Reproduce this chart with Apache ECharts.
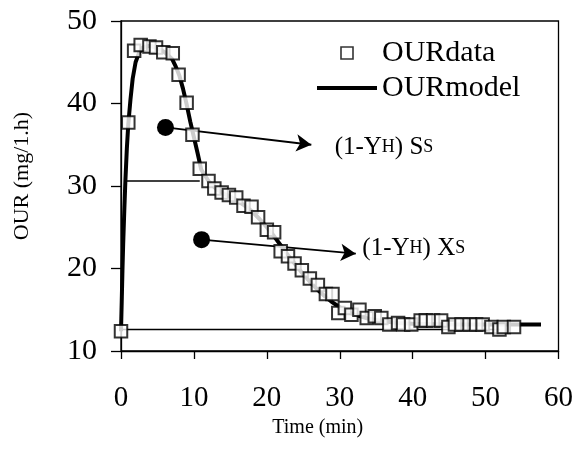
<!DOCTYPE html>
<html>
<head>
<meta charset="utf-8">
<script src="https://cdn.jsdelivr.net/npm/echarts@6/dist/echarts.min.js"></script>
<style>
  html, body { margin: 0; padding: 0; background: #fff; }
  #chart { width: 576px; height: 457px; }
</style>
</head>
<body>
<div id="chart"></div>
<script>
// measured OUR data (time in min, OUR in mg/l.h)
const timeData = [0, 1.0, 1.8, 2.7, 3.9, 4.8, 5.8, 7.1, 7.9, 9.0, 9.8, 10.8, 12.0, 12.8, 13.8, 14.8,
  15.8, 16.8, 17.9, 18.8, 20.0, 21.0, 21.9, 22.9, 23.8, 24.8, 25.9, 27.0, 28.1, 29.0, 29.8, 30.7,
  31.6, 32.7, 33.7, 34.8, 35.7, 36.8, 38.0, 38.7, 39.8, 41.1, 41.8, 42.8, 43.9, 44.9, 45.8, 46.7,
  47.8, 48.7, 49.6, 50.8, 51.9, 52.5, 53.9];
const ourData = [12.4, 37.7, 46.4, 47.1, 46.9, 46.8, 46.2, 46.1, 43.5, 40.1, 36.2, 32.1, 30.6, 29.7, 29.2, 28.9,
  28.6, 27.6, 27.5, 26.2, 24.7, 24.4, 22.1, 21.5, 20.6, 19.8, 18.8, 18.0, 16.9, 16.9, 14.6, 15.2,
  14.4, 15.0, 14.0, 14.2, 14.0, 13.2, 13.4, 13.2, 13.2, 13.7, 13.7, 13.7, 13.7, 12.9, 13.2, 13.2,
  13.2, 13.2, 13.2, 12.9, 12.6, 12.9, 12.9];

// model curve
const modelTime = [0, 0.1, 0.2, 0.3, 0.45, 0.6, 0.8, 1.0, 1.3, 1.6, 2.0, 2.5, 3.0, 4.0, 5.0, 6.0, 7.0, 7.5,
  8.0, 8.5, 9.0, 9.5, 10.0, 10.5, 11.0, 12, 13, 14, 15, 16, 17, 18, 19, 20, 21, 22, 23, 24, 25, 26,
  27, 28, 29, 30, 31, 32, 34, 36, 38, 40, 45, 50, 57.6];
const modelOur = [12.4, 16.0, 19.8, 23.0, 27.0, 30.6, 34.5, 37.5, 40.5, 43.0, 45.0, 46.2, 46.8, 47.0, 46.7, 46.2, 45.4, 44.5,
  43.4, 41.8, 39.9, 37.8, 35.9, 34.0, 32.0, 30.6, 29.7, 29.1, 28.7, 28.2, 27.6, 26.9, 26.0, 25.0, 23.9, 22.7, 21.5, 20.4, 19.3, 18.3,
  17.4, 16.6, 15.9, 15.3, 14.8, 14.4, 13.9, 13.6, 13.4, 13.3, 13.2, 13.2, 13.2];

// reference levels (start, end)
const ssLine = [[0.6, 30.6], [10.8, 30.6]];
const baseLine = [[0, 12.6], [52, 12.6]];

// annotation dots, arrow ends and labels
const dotPoints = [[6.1, 37.1], [11.05, 23.5]];
const arrowEnds = [[26.1, 35.0], [32.2, 21.8]];
const labelPoints = [[29.3, 34.7], [33.1, 22.4]];
const labelTexts = ['{a|(1-Y}{b|H}{a|) S}{b|S}', '{a|(1-Y}{b|H}{a|) X}{b|S}'];

const serif = '"Liberation Serif", "DejaVu Serif", serif';

const chart = echarts.init(document.getElementById('chart'));

const option = {
  animation: false,
  backgroundColor: '#fff',
  grid: {
    left: 121, top: 21, right: 17, bottom: 106,
    show: true, borderColor: '#000', borderWidth: 1.3
  },
  legend: {
    orient: 'vertical',
    left: 312, top: 33,
    itemWidth: 60, itemHeight: 12, itemGap: 5,
    symbolKeepAspect: true,
    textStyle: { fontFamily: serif, fontSize: 30, color: '#000' },
    data: [
      {
        name: 'OURdata',
        icon: 'path://M0,0H10V10H0Z',
        itemStyle: { color: '#fff', borderColor: '#000', borderWidth: 1.6 }
      },
      {
        name: 'OURmodel',
        icon: 'path://M0,0H60V4H0Z',
        itemStyle: { color: '#000', borderWidth: 0 }
      }
    ]
  },
  xAxis: {
    type: 'value', min: 0, max: 60, interval: 10,
    name: 'Time (min)', nameLocation: 'middle', nameGap: 58,
    nameTextStyle: { fontFamily: serif, fontSize: 20, color: '#000', padding: [0, 44, 0, 0] },
    axisLine: { lineStyle: { color: '#000', width: 1.3 } },
    axisTick: { inside: false, length: 8, lineStyle: { color: '#000', width: 1.3 } },
    axisLabel: { fontFamily: serif, fontSize: 29, color: '#000', margin: 33 },
    splitLine: { show: false }
  },
  yAxis: {
    type: 'value', min: 10, max: 50, interval: 10,
    name: 'OUR (mg/1.h)', nameLocation: 'middle', nameGap: 88,
    nameTextStyle: { fontFamily: serif, fontSize: 22, color: '#000', padding: [0, 0, 0, 20] },
    axisLine: { lineStyle: { color: '#000', width: 1.3 } },
    axisTick: { inside: false, length: 10, lineStyle: { color: '#000', width: 1.3 } },
    axisLabel: { fontFamily: serif, fontSize: 30, color: '#000', margin: 24 },
    splitLine: { show: false }
  },
  series: [
    {
      name: 'OURdata',
      type: 'scatter',
      z: 5,
      symbol: 'rect',
      symbolSize: 12.5,
      itemStyle: { color: '#fff', borderColor: '#000', borderWidth: 2 },
      data: timeData.map((t, i) => [t, ourData[i]])
    },
    {
      name: 'OURmodel',
      type: 'line',
      z: 3,
      showSymbol: false,
      symbol: 'none',
      lineStyle: { color: '#000', width: 4 },
      itemStyle: { color: '#000' },
      data: modelTime.map((t, i) => [t, modelOur[i]])
    },
    {
      name: 'ss',
      type: 'line',
      z: 2,
      symbol: 'none',
      lineStyle: { color: '#000', width: 1.5 },
      data: ssLine
    },
    {
      name: 'base',
      type: 'line',
      z: 2,
      symbol: 'none',
      lineStyle: { color: '#000', width: 1.5 },
      data: baseLine
    },
    {
      name: 'notes',
      type: 'scatter',
      z: 4,
      data: [],
      markPoint: {
        symbol: 'circle',
        symbolSize: 17,
        itemStyle: { color: '#000' },
        label: { show: false },
        data: dotPoints.map(p => ({ coord: p }))
      },
      markLine: {
        silent: true,
        symbol: ['none', 'arrow'],
        symbolSize: [13, 15],
        lineStyle: { color: '#000', width: 1.8, type: 'solid' },
        label: { show: false },
        data: dotPoints.map((p, i) => [{ coord: p }, { coord: arrowEnds[i] }])
      }
    },
    {
      name: 'labels',
      type: 'scatter',
      data: [],
      markPoint: {
        symbol: 'circle',
        symbolSize: 0,
        itemStyle: { color: 'transparent' },
        label: {
          show: true,
          position: 'right',
          distance: 0,
          color: '#000',
          rich: {
            a: { fontFamily: serif, fontSize: 25, color: '#000' },
            b: { fontFamily: serif, fontSize: 18, color: '#000' }
          }
        },
        data: labelPoints.map((p, i) => ({ coord: p, label: { formatter: labelTexts[i] } }))
      }
    }
  ]
};

chart.setOption(option);
</script>
</body>
</html>
